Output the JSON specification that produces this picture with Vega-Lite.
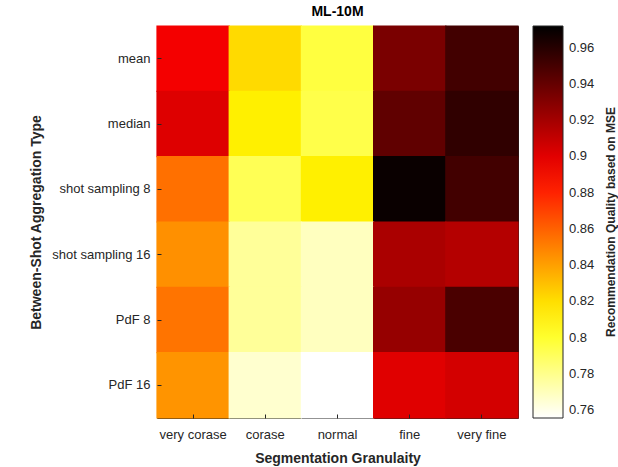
{
  "$schema": "https://vega.github.io/schema/vega-lite/v6.json",
  "autosize": {"type": "none"},
  "padding": {"left": 157, "top": 26, "right": 100, "bottom": 49},
  "width": 361,
  "height": 392,
  "background": "#ffffff",
  "title": {"text": "ML-10M", "fontSize": 14, "font": "Liberation Sans", "fontWeight": "bold", "color": "#000000", "offset": 6, "anchor": "middle"},
  "config": {
    "view": {"stroke": "#262626", "strokeWidth": 1},
    "axis": {"labelFont": "Liberation Sans", "titleFont": "Liberation Sans", "labelColor": "#262626", "titleColor": "#262626", "labelFontSize": 13, "titleFontSize": 14, "titleFontWeight": "bold", "domain": false, "tickColor": "#262626", "grid": false},
    "legend": {"labelFont": "Liberation Sans", "titleFont": "Liberation Sans"}
  },
  "data": {"values": [
    {"agg": "mean", "gran": "very corase", "q": 0.8943},
    {"agg": "mean", "gran": "corase", "q": 0.8215},
    {"agg": "mean", "gran": "normal", "q": 0.7962},
    {"agg": "mean", "gran": "fine", "q": 0.9333},
    {"agg": "mean", "gran": "very fine", "q": 0.951},
    {"agg": "median", "gran": "very corase", "q": 0.9014},
    {"agg": "median", "gran": "corase", "q": 0.8145},
    {"agg": "median", "gran": "normal", "q": 0.794},
    {"agg": "median", "gran": "fine", "q": 0.9415},
    {"agg": "median", "gran": "very fine", "q": 0.9567},
    {"agg": "shot sampling 8", "gran": "very corase", "q": 0.8552},
    {"agg": "shot sampling 8", "gran": "corase", "q": 0.7917},
    {"agg": "shot sampling 8", "gran": "normal", "q": 0.8145},
    {"agg": "shot sampling 8", "gran": "fine", "q": 0.9688},
    {"agg": "shot sampling 8", "gran": "very fine", "q": 0.951},
    {"agg": "shot sampling 16", "gran": "very corase", "q": 0.845},
    {"agg": "shot sampling 16", "gran": "corase", "q": 0.7772},
    {"agg": "shot sampling 16", "gran": "normal", "q": 0.7691},
    {"agg": "shot sampling 16", "gran": "fine", "q": 0.918},
    {"agg": "shot sampling 16", "gran": "very fine", "q": 0.9146},
    {"agg": "PdF 8", "gran": "very corase", "q": 0.8539},
    {"agg": "PdF 8", "gran": "corase", "q": 0.7772},
    {"agg": "PdF 8", "gran": "normal", "q": 0.7691},
    {"agg": "PdF 8", "gran": "fine", "q": 0.9243},
    {"agg": "PdF 8", "gran": "very fine", "q": 0.9485},
    {"agg": "PdF 16", "gran": "very corase", "q": 0.8438},
    {"agg": "PdF 16", "gran": "corase", "q": 0.7658},
    {"agg": "PdF 16", "gran": "normal", "q": 0.7556},
    {"agg": "PdF 16", "gran": "fine", "q": 0.9008},
    {"agg": "PdF 16", "gran": "very fine", "q": 0.905}
  ]},
  "mark": {"type": "rect", "width": 73.4, "height": 66.5},
  "encoding": {
    "x": {"field": "gran", "type": "nominal", "sort": ["very corase", "corase", "normal", "fine", "very fine"],
      "scale": {"paddingInner": 0, "paddingOuter": 0},
      "axis": {"title": "Segmentation Granulaity", "labelAngle": 0, "tickSize": -4, "labelPadding": 14, "titlePadding": 10}},
    "y": {"field": "agg", "type": "nominal", "sort": ["mean", "median", "shot sampling 8", "shot sampling 16", "PdF 8", "PdF 16"],
      "scale": {"paddingInner": 0, "paddingOuter": 0},
      "axis": {"title": "Between-Shot Aggregation Type", "tickSize": -4, "labelPadding": 11, "titlePadding": 8}},
    "color": {"field": "q", "type": "quantitative",
      "scale": {"domain": [0.7556, 0.8097, 0.8909, 0.972], "range": ["#ffffff", "#ffff00", "#ff0000", "#000000"], "interpolate": "rgb"},
      "legend": {"type": "gradient", "direction": "vertical", "title": "Recommendation Quality based on MSE", "titleOrient": "right", "titleAnchor": "middle", "titleLimit": 400, "titleFontSize": 12, "titleFontWeight": "bold", "titleColor": "#262626", "titlePadding": 12,
        "encode": {"title": {"update": {"angle": {"value": 270}, "baseline": {"value": "top"}}}},
        "gradientLength": 392, "gradientThickness": 30, "gradientStrokeColor": "#262626", "gradientStrokeWidth": 1,
        "values": [0.76, 0.78, 0.8, 0.82, 0.84, 0.86, 0.88, 0.9, 0.92, 0.94, 0.96], "format": ".2~f",
        "labelFontSize": 13, "labelColor": "#262626", "labelOffset": 6, "offset": 15, "padding": 0, "labelOverlap": false}}
  }
}
